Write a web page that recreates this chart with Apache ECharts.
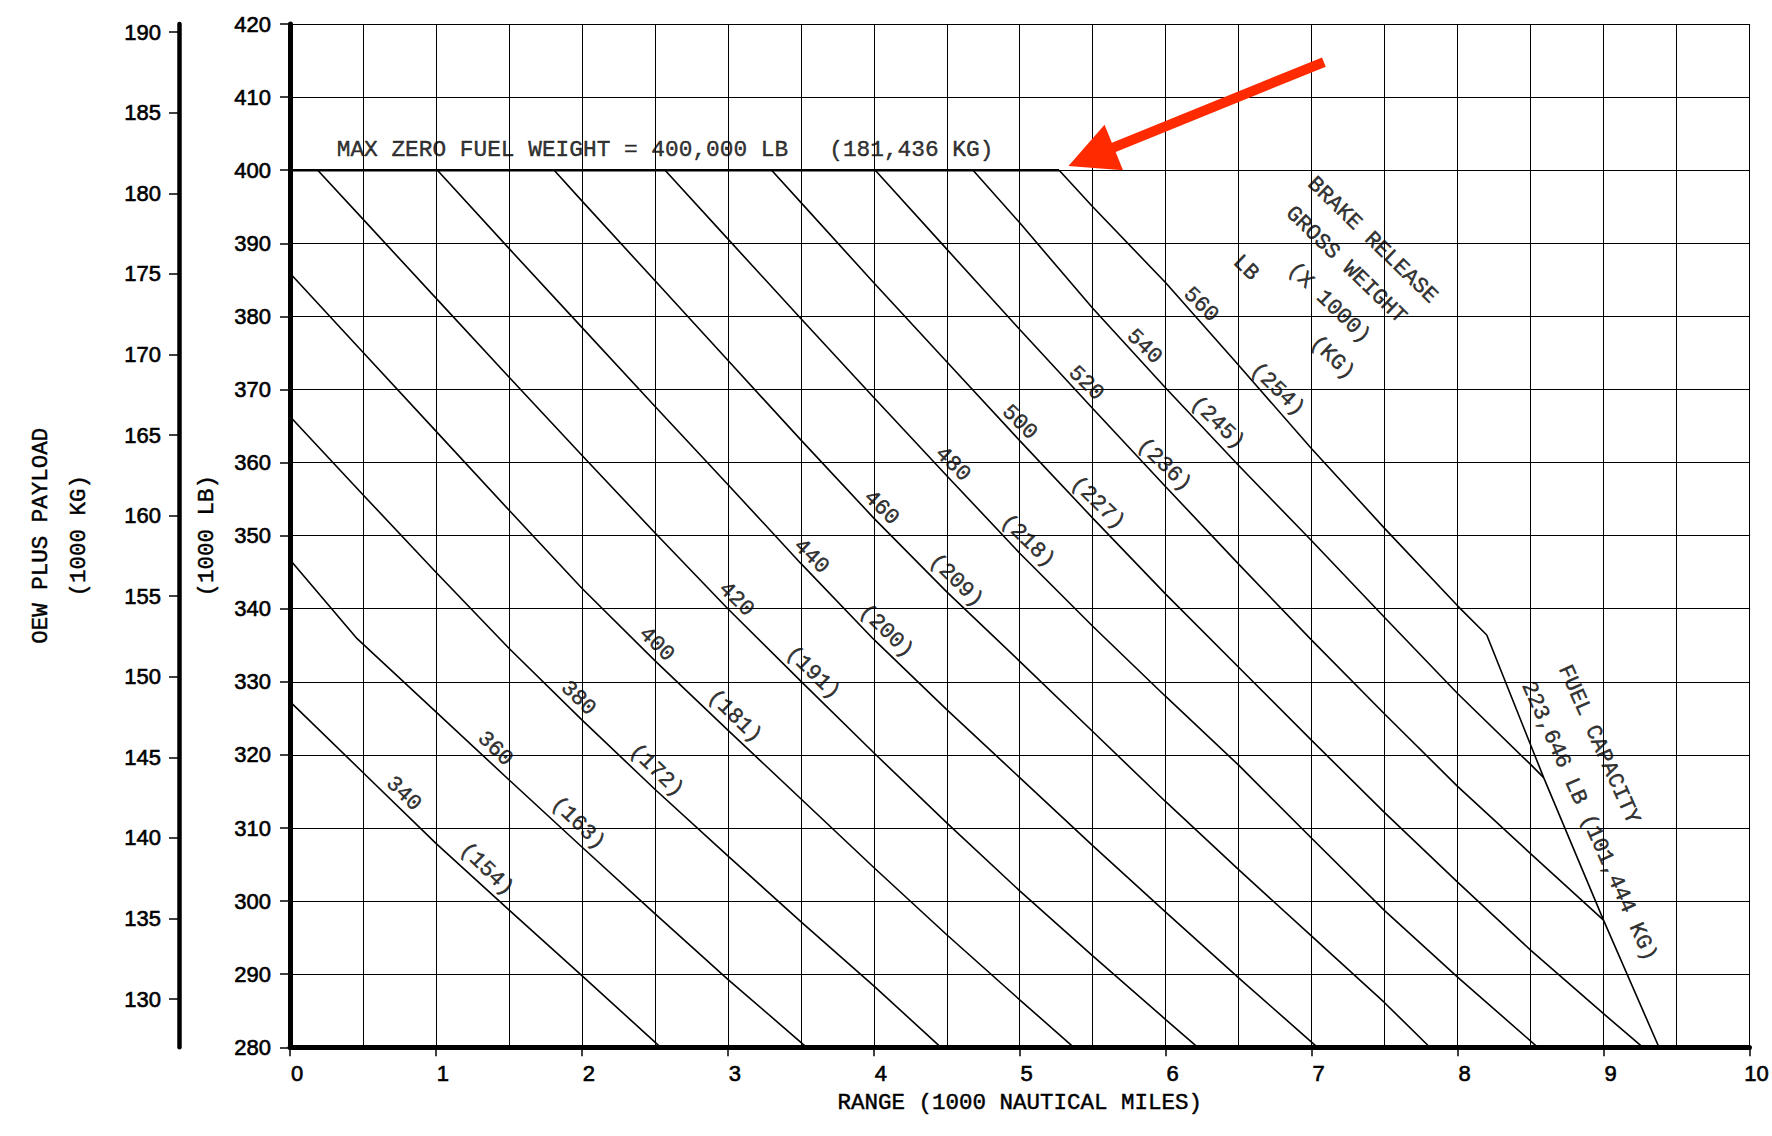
<!DOCTYPE html>
<html>
<head>
<meta charset="utf-8">
<script src="https://cdn.jsdelivr.net/npm/echarts@6/dist/echarts.min.js"></script>
<style>
html,body{margin:0;padding:0;background:#fff;}
#chart{width:1772px;height:1136px;}
</style>
</head>
<body>
<div id="chart"></div>
<script>
// ---------------- DATA ----------------
const rangeTicks = [0, 1, 2, 3, 4, 5, 6, 7, 8, 9, 10];          // 1000 nmi
const lbTicks = [280, 290, 300, 310, 320, 330, 340, 350, 360, 370, 380, 390, 400, 410, 420];
const kgTicks = [130, 135, 140, 145, 150, 155, 160, 165, 170, 175, 180, 185, 190];

// Brake release gross weight curves (x = range 1000 nmi, y = OEW + payload 1000 lb)
const weightsLb = [340, 360, 380, 400, 420, 440, 460, 480, 500, 520, 540, 560];
const weightsKg = [154, 163, 172, 181, 191, 200, 209, 218, 227, 236, 245, 254];

const gw340 = [[0, 327.3], [0.5, 317.6], [1.0, 307.9], [1.5, 298.8], [2.0, 289.8], [2.54, 280]];
const gw360 = [[0, 346.7], [0.46, 335.9], [1.0, 325.9], [1.5, 316.6], [2.0, 307.4], [2.5, 298.3], [3.0, 289.3], [3.54, 280]];
const gw380 = [[0, 366.3], [0.5, 355.6], [1.0, 345.0], [1.5, 334.6], [2.0, 324.8], [2.5, 315.3], [3.0, 306.2], [3.5, 297.2], [4.0, 288.4], [4.46, 280]];
const gw400 = [[0, 385.9], [0.5, 375.1], [1.0, 364.3], [1.5, 353.5], [2.0, 342.8], [2.5, 332.9], [3.0, 323.4], [3.5, 314.0], [4.0, 304.6], [4.5, 295.4], [5.0, 286.5], [5.37, 280]];
const gw420 = [[0.19, 400], [0.5, 393.3], [1.0, 382.5], [1.5, 371.7], [2.0, 361.0], [2.5, 350.4], [3.0, 340.0], [3.5, 330.1], [4.0, 320.3], [4.5, 310.7], [5.0, 301.4], [5.5, 292.5], [6.0, 283.8], [6.22, 280]];
const gw440 = [[1.01, 400], [1.5, 389.3], [2.0, 378.5], [2.5, 367.7], [3.0, 357.0], [3.5, 346.2], [4.0, 335.8], [4.5, 326.2], [5.0, 316.9], [5.5, 307.6], [6.0, 298.5], [6.5, 289.5], [7.04, 280]];
const gw460 = [[1.81, 400], [2.0, 395.8], [2.5, 384.9], [3.0, 374.0], [3.5, 363.1], [4.0, 352.4], [4.5, 342.3], [5.0, 332.8], [5.5, 323.2], [6.0, 313.6], [6.5, 304.3], [7.0, 295.2], [7.5, 286.1], [7.81, 280]];
const gw480 = [[2.57, 400], [3.0, 390.6], [3.5, 379.7], [4.0, 368.9], [4.5, 358.2], [5.0, 347.6], [5.5, 337.6], [6.0, 328.0], [6.5, 318.6], [7.0, 308.6], [7.5, 298.7], [8.0, 289.6], [8.55, 280]];
const gw500 = [[3.30, 400], [3.5, 395.6], [4.0, 384.6], [4.5, 373.8], [5.0, 363.0], [5.5, 352.4], [6.0, 342.0], [6.5, 332.0], [7.0, 322.0], [7.5, 312.1], [8.0, 302.6], [8.5, 293.3], [9.0, 284.6], [9.27, 280]];
const gw520 = [[4.01, 400], [4.5, 389.2], [5.0, 378.2], [5.5, 367.4], [6.0, 356.7], [6.5, 346.1], [7.0, 335.7], [7.5, 325.6], [8.0, 315.7], [8.5, 306.5], [9.0, 297.4]];
const gw540 = [[4.68, 400], [5.0, 392.8], [5.5, 381.1], [6.0, 370.2], [6.5, 359.6], [7.0, 349.3], [7.5, 338.8], [8.0, 328.4], [8.5, 318.7], [8.59, 316.9]];
const gw560 = [[5.27, 400], [5.5, 395.0], [6.0, 384.6], [6.5, 373.3], [7.0, 361.9], [7.5, 351.0], [8.0, 340.4], [8.2, 336.4]];

const fuelCapacityLine = [[8.2, 336.4], [8.59, 316.9], [9.0, 297.4], [9.38, 280]];
const mzfwLine = [[0, 400], [5.27, 400]];
const arrowTail = [7.084, 414.8];
const arrowHead = [5.489, 401.84];

const LB_PER_KG = 2.20462;

// ---------------- TEXT / LAYOUT ----------------
const MONO = "'Liberation Mono','DejaVu Sans Mono',monospace";
const SANS = "'Liberation Sans',Arial,Helvetica,sans-serif";
const INK = '#000';
const MONO_BORDER = 0.45;  // thickens thin glyph strokes slightly
const SANS_BORDER = 0.6;
const lbLabelX = [0.776, 1.403, 1.973, 2.51, 3.057, 3.571, 4.05, 4.54, 4.997, 5.453, 5.852, 6.24];
const kgLabelX = [1.346, 1.973, 2.51, 3.046, 3.582, 4.084, 4.563, 5.054, 5.533, 5.989, 6.354, 6.765];
const LB_LIFT = 2.4, KG_LIFT = 2.7;

const curves = [gw340, gw360, gw380, gw400, gw420, gw440, gw460, gw480, gw500, gw520, gw540, gw560];

function interp(line, x) {
  for (let i = 0; i < line.length - 1; i++) {
    const a = line[i], b = line[i + 1];
    if (x >= a[0] && x <= b[0]) {
      return a[1] + (b[1] - a[1]) * (x - a[0]) / (b[0] - a[0]);
    }
  }
  return x < line[0][0] ? line[0][1] : line[line.length - 1][1];
}

const curveLabels = [];
curves.forEach((ln, i) => {
  curveLabels.push({ value: [lbLabelX[i], interp(ln, lbLabelX[i]) + LB_LIFT], label: { formatter: String(weightsLb[i]) } });
  curveLabels.push({ value: [kgLabelX[i], interp(ln, kgLabelX[i]) + KG_LIFT], label: { formatter: '(' + weightsKg[i] + ')' } });
});

const noteLabels = [
  { value: [7.415, 390.4], label: { formatter: 'BRAKE RELEASE' } },
  { value: [7.233, 387.0], label: { formatter: 'GROSS WEIGHT' } },
  { value: [6.548, 386.6], label: { formatter: 'LB' } },
  { value: [7.118, 381.8], label: { formatter: '(X 1000)' } },
  { value: [7.141, 374.3], label: { formatter: '(KG)' } },
  { value: [8.966, 321.4], label: { formatter: 'FUEL CAPACITY', rotate: -66 } },
  { value: [8.898, 310.9], label: { formatter: '223,646 LB (101,444 KG)', rotate: -66 } },
  { value: [0.32, 402.7], label: { formatter: 'MAX ZERO FUEL WEIGHT = 400,000 LB   (181,436 KG)', fontSize: 22.8, rotate: 0, position: 'right', distance: 0 } }
];

const chart = echarts.init(document.getElementById('chart'), null, { renderer: 'svg' });

const curveSeries = curves.map((ln, i) => ({
  type: 'line', name: String(weightsLb[i]), data: ln, symbol: 'none', silent: true,
  lineStyle: { color: INK, width: 1.6 }, z: 3, animation: false
}));

const monoName = { fontFamily: MONO, fontSize: 22.5, color: INK, lineHeight: 26, textBorderColor: INK, textBorderWidth: MONO_BORDER };
const sansTick = { fontFamily: SANS, fontSize: 22, color: INK, textBorderColor: INK, textBorderWidth: SANS_BORDER };

const option = {
  animation: false,
  backgroundColor: '#fff',
  textStyle: { fontFamily: SANS },
  grid: { left: 290, right: 18.5, top: 24, bottom: 88.7, containLabel: false },
  xAxis: {
    type: 'value', min: rangeTicks[0], max: rangeTicks[rangeTicks.length - 1], interval: 1,
    name: 'RANGE (1000 NAUTICAL MILES)', nameLocation: 'middle', nameGap: 39,
    nameTextStyle: monoName,
    axisLine: { onZero: false, lineStyle: { color: INK, width: 5 } },
    axisTick: { show: true, length: 9, lineStyle: { color: INK, width: 1.5 } },
    axisLabel: Object.assign({ margin: 15, padding: [0, 0, 0, 14] }, sansTick),
    splitLine: { show: true, lineStyle: { color: INK, width: 1 } },
    minorTick: { show: false, splitNumber: 2 },
    minorSplitLine: { show: true, lineStyle: { color: INK, width: 1 } }
  },
  yAxis: [
    {
      type: 'value', min: lbTicks[0], max: lbTicks[lbTicks.length - 1], interval: 10, position: 'left',
      name: '(1000 LB)', nameLocation: 'middle', nameRotate: 90, nameGap: 70,
      nameTextStyle: monoName,
      axisLine: { show: true, onZero: false, lineStyle: { color: INK, width: 5 } },
      axisTick: { show: true, length: 10, lineStyle: { color: INK, width: 1.5 } },
      axisLabel: Object.assign({ margin: 19 }, sansTick),
      splitLine: { show: true, lineStyle: { color: INK, width: 1 } }
    },
    {
      type: 'value', min: lbTicks[0] / LB_PER_KG, max: lbTicks[lbTicks.length - 1] / LB_PER_KG,
      position: 'left', offset: 111,
      name: 'OEW PLUS PAYLOAD\n(1000 KG)', nameLocation: 'middle', nameRotate: 90, nameGap: 81,
      nameTextStyle: Object.assign({}, monoName, { lineHeight: 38, align: 'center' }),
      axisLine: { show: true, onZero: false, lineStyle: { color: INK, width: 4.5 } },
      axisTick: { show: true, length: 10, customValues: kgTicks, lineStyle: { color: INK, width: 1.5 } },
      axisLabel: Object.assign({ margin: 18, customValues: kgTicks }, sansTick),
      splitLine: { show: false }
    }
  ],
  series: curveSeries.concat([
    {
      type: 'line', name: 'fuel capacity', data: fuelCapacityLine, symbol: 'none', silent: true,
      lineStyle: { color: INK, width: 1.6 }, z: 3
    },
    {
      type: 'line', name: 'MZFW', data: mzfwLine, symbol: 'none', silent: true,
      lineStyle: { color: INK, width: 2.6 }, z: 3,
      markLine: {
        silent: true, symbol: ['none', 'triangle'], symbolSize: 49, animation: false,
        lineStyle: { color: '#ff2a00', width: 10, type: 'solid', cap: 'butt', opacity: 1 },
        itemStyle: { color: '#ff2a00' },
        label: { show: false }, emphasis: { disabled: true },
        data: [[{ coord: arrowTail }, { coord: arrowHead }]]
      }
    },
    {
      type: 'scatter', name: 'curve labels', data: curveLabels, symbolSize: 0.01, silent: true, z: 4,
      itemStyle: { color: 'rgba(0,0,0,0)' },
      label: { show: true, position: 'inside', fontFamily: MONO, fontSize: 22, color: INK, rotate: -44, textBorderColor: INK, textBorderWidth: MONO_BORDER }
    },
    {
      type: 'scatter', name: 'notes', data: noteLabels, symbolSize: 0.01, silent: true, z: 4,
      itemStyle: { color: 'rgba(0,0,0,0)' },
      label: { show: true, position: 'inside', fontFamily: MONO, fontSize: 22, color: INK, rotate: -44, textBorderColor: INK, textBorderWidth: MONO_BORDER }
    }
  ])
};

chart.setOption(option);
</script>
</body>
</html>
